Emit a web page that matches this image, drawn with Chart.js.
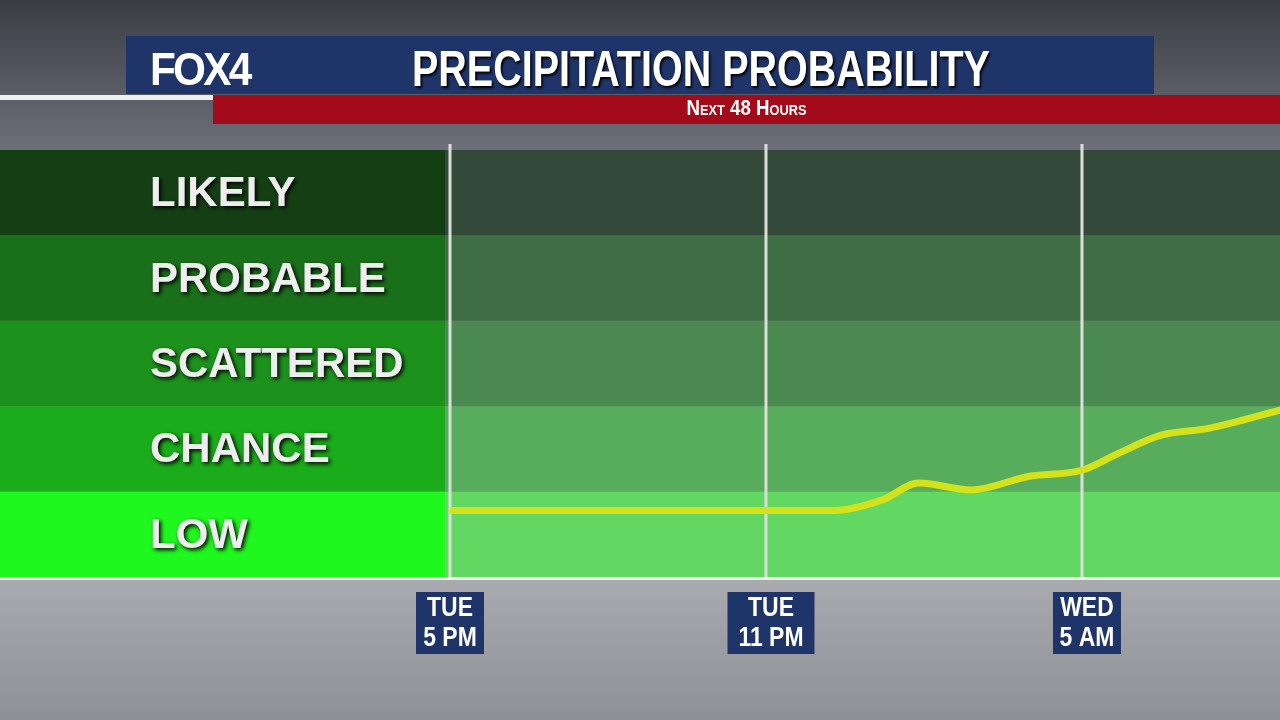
<!DOCTYPE html>
<html><head><meta charset="utf-8">
<script src="https://cdn.jsdelivr.net/npm/chart.js@4"></script>
<style>
body{margin:0;width:1280px;height:720px;overflow:hidden;background:#555;font-family:"Liberation Sans",Arial,sans-serif}
#wrap{position:relative;width:1280px;height:720px}
canvas{position:absolute;left:0;top:0}
.hdr{position:absolute;left:126px;top:36px;width:1028px;height:58px;background:#1f3569}
.fox{position:absolute;left:150px;top:42px;color:#fff;font:bold 46px "Liberation Sans",sans-serif;letter-spacing:-3px;transform:scaleX(0.92);transform-origin:left}
.ttl{position:absolute;left:412px;top:40px;width:700px;color:#fff;font:bold 50px "Liberation Sans",sans-serif;text-shadow:2px 2px 3px #000;transform:scaleX(0.79);transform-origin:left;white-space:nowrap}
.sub{position:absolute;left:213px;top:95px;width:1067px;height:29px;background:#a40b1a;color:#fff;text-align:center;line-height:30px}
.sub span{display:inline-block;font:bold 22px "Liberation Sans",sans-serif;font-variant:small-caps;transform:scaleX(0.85)}
.wl{position:absolute;left:0;top:95px;width:213px;height:5px;background:#eee}
</style></head><body>
<div id="wrap">
<canvas id="c" width="1280" height="720"></canvas>
<div class="hdr"></div><div class="fox">FOX4</div>
<div class="ttl">PRECIPITATION PROBABILITY</div>
<div class="wl"></div><div class="sub"><span>Next 48 Hours</span></div>
</div>
<script>
// hours after Tue 5 PM
const hours = [0, 2, 4, 6, 7.3, 8.2, 8.9, 9.9, 11, 12, 12.7, 13.5, 14.4, 15.8];
const chanceLevel = [0.78, 0.78, 0.78, 0.78, 0.78, 0.9, 1.1, 1.02, 1.18, 1.25, 1.45, 1.66, 1.74, 1.96];
const bandNames = ['LOW', 'CHANCE', 'SCATTERED', 'PROBABLE', 'LIKELY'];
const bandColors = ['#1ef81e', '#1aac1a', '#1c911c', '#1a6f1a', '#143f14'];
const plotColors = ['#62d862', '#58ad5c', '#4a8a50', '#3f6e45', '#33493a'];
const tickHours = [0, 6, 12];
const tickLabels = [['TUE', '5 PM'], ['TUE', '11 PM'], ['WED', '5 AM']];

const bg = {
  id: 'bg',
  beforeDraw(ch) {
    const c = ch.ctx, a = ch.chartArea, y = ch.scales.y, x = ch.scales.x;
    let g = c.createLinearGradient(0, 0, 0, 720);
    g.addColorStop(0, '#3a3d44'); g.addColorStop(0.2, '#6b6e76'); g.addColorStop(0.8, '#a9abb0'); g.addColorStop(1, '#8e9096');
    c.fillStyle = g; c.fillRect(0, 0, 1280, 720);
    bandNames.forEach((n, i) => {
      const t = y.getPixelForValue(i + 1), b = y.getPixelForValue(i);
      c.fillStyle = bandColors[i]; c.fillRect(0, t, 445, b - t);
      c.fillStyle = plotColors[i]; c.fillRect(445, t, a.right - 445, b - t);
      c.font = 'bold 42px "Liberation Sans", sans-serif';
      c.fillStyle = '#eee'; c.textBaseline = 'middle';
      c.shadowColor = '#000'; c.shadowBlur = 4; c.shadowOffsetX = 2; c.shadowOffsetY = 2;
      c.fillText(n, 150, (t + b) / 2 + 2);
      c.shadowColor = 'transparent';
    });
    c.fillStyle = '#eee'; c.fillRect(0, a.bottom, 1280, 3);
    c.strokeStyle = '#ddd'; c.lineWidth = 3;
    const boxW = [68, 87, 68];
    tickHours.forEach((h, i) => {
      const px = x.getPixelForValue(h) + (i ? 5 : 0);
      c.beginPath(); c.moveTo(px - (i ? 5 : 0), 144); c.lineTo(px - (i ? 5 : 0), a.bottom); c.stroke();
      c.fillStyle = '#1f3569'; c.fillRect(px - boxW[i] / 2, 592, boxW[i], 62);
      c.fillStyle = '#fff'; c.font = 'bold 27px "Liberation Sans", sans-serif'; c.textAlign = 'center';
      c.save(); c.translate(px, 0); c.scale(0.85, 1);
      c.fillText(tickLabels[i][0], 0, 609); c.fillText(tickLabels[i][1], 0, 639);
      c.restore(); c.textAlign = 'left';
    });
  }
};

new Chart(document.getElementById('c'), {
  type: 'line',
  data: { datasets: [{ data: hours.map((h, i) => ({ x: h, y: chanceLevel[i] })), borderColor: '#d4e21c', borderWidth: 7, pointRadius: 0, tension: 0.4, cubicInterpolationMode: 'monotone' }] },
  options: {
    responsive: false, animation: false,
    layout: { padding: { left: 450, top: 150, right: 0, bottom: 143 } },
    plugins: { legend: { display: false }, tooltip: { enabled: false } },
    scales: {
      x: { type: 'linear', min: 0, max: 15.76, display: false },
      y: { min: 0, max: 5, display: false }
    }
  },
  plugins: [bg]
});
</script>
</body></html>
